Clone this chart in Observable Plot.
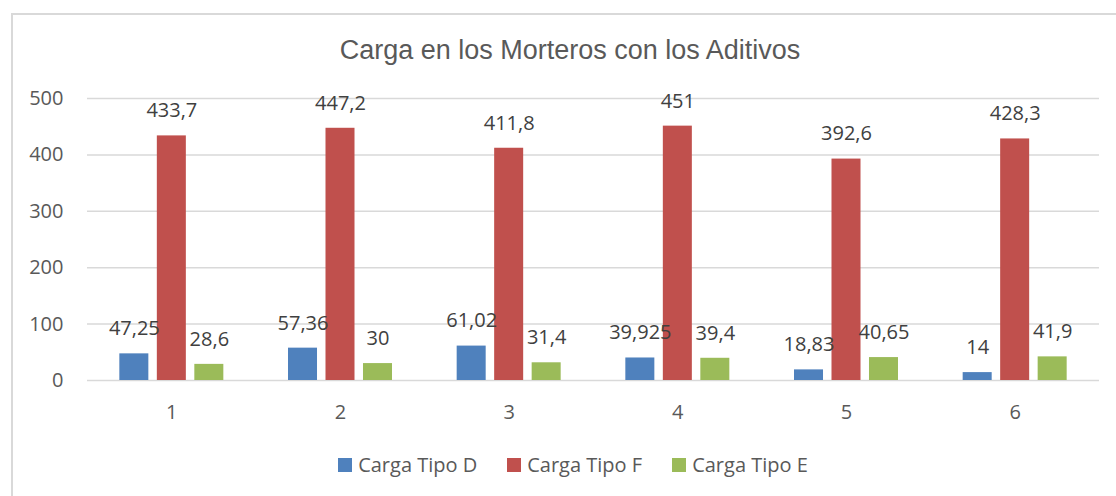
<!DOCTYPE html>
<html>
<head>
<meta charset="utf-8">
<script src="https://cdn.jsdelivr.net/npm/d3@7"></script>
<script src="https://cdn.jsdelivr.net/npm/@observablehq/plot@0.6"></script>
<style>
  html, body { margin: 0; padding: 0; background: #fff; width: 1116px; height: 496px; overflow: hidden; }
  #frame { position: absolute; left: 11px; top: 13px; width: 1200px; height: 600px; border: 2px solid #d9d9d9; box-sizing: border-box; }
  #title { position: absolute; left: 0; top: 35px; width: 1140px; text-align: center; font-family: "Liberation Sans", Arial, sans-serif; font-size: 27px; color: #595959; }
  #chart { position: absolute; left: 0; top: 80px; }
  #legend { position: absolute; left: 0; top: 451px; width: 1146px; display: flex; justify-content: center; font-family: "Open Sans", sans-serif; font-size: 20px; color: #595959; }
  .item { display: flex; align-items: center; margin: 0 15px; }
  .sw { width: 14px; height: 14px; margin-right: 6px; }
</style>
</head>
<body>
<div id="frame"></div>
<div id="title">Carga en los Morteros con los Aditivos</div>
<div id="chart"></div>
<div id="legend"></div>
<script>
const categories = [1, 2, 3, 4, 5, 6];
const series = ["Carga Tipo D", "Carga Tipo F", "Carga Tipo E"];
const labels = {
  "Carga Tipo D": ["47,25", "57,36", "61,02", "39,925", "18,83", "14"],
  "Carga Tipo F": ["433,7", "447,2", "411,8", "451", "392,6", "428,3"],
  "Carga Tipo E": ["28,6", "30", "31,4", "39,4", "40,65", "41,9"]
};
const tipoD = [47.25, 57.36, 61.02, 39.925, 18.83, 14];
const tipoF = [433.7, 447.2, 411.8, 451, 392.6, 428.3];
const tipoE = [28.6, 30, 31.4, 39.4, 40.65, 41.9];
const colors = ["#4f81bd", "#c0504d", "#9bbb59"];
const yTicks = [0, 100, 200, 300, 400, 500];

const values = [tipoD, tipoF, tipoE];
const data = [];
series.forEach((s, si) => {
  categories.forEach((c, ci) => {
    data.push({cat: c, series: s, si, value: values[si][ci], label: labels[s][ci]});
  });
});

// group layout (fractions of a category step)
const offset = 0.2223, half = 0.086;
const xc = d => d.cat + (d.si - 1) * offset;

const plot = Plot.plot({
  width: 1116,
  height: 350,
  marginLeft: 87,
  marginRight: 17,
  marginTop: 18,
  marginBottom: 50,
  style: {fontFamily: "'Open Sans', sans-serif", fontSize: "20px", color: "#595959", background: "transparent"},
  x: {type: "linear", domain: [0.5, 6.5], ticks: categories, tickFormat: d => String(d), tickSize: 0, tickPadding: 24, label: null},
  y: {domain: [0, 500], ticks: yTicks, tickSize: 0, tickPadding: 24, label: null},
  color: {domain: series, range: colors},
  marks: [
    Plot.ruleY(yTicks, {stroke: "#d9d9d9", strokeWidth: 1.5}),
    Plot.rectY(data, {x1: d => xc(d) - half, x2: d => xc(d) + half, y1: 0, y2: "value", fill: "series"}),
    Plot.text(data, {x: xc, y: "value", text: "label", dy: -25, fill: "#404040", fontSize: 20})
  ]
});
document.getElementById("chart").appendChild(plot);

const legend = document.getElementById("legend");
series.forEach((s, i) => {
  const it = document.createElement("div");
  it.className = "item";
  it.innerHTML = `<span class="sw" style="background:${colors[i]}"></span><span>${s}</span>`;
  legend.appendChild(it);
});
</script>
</body>
</html>
